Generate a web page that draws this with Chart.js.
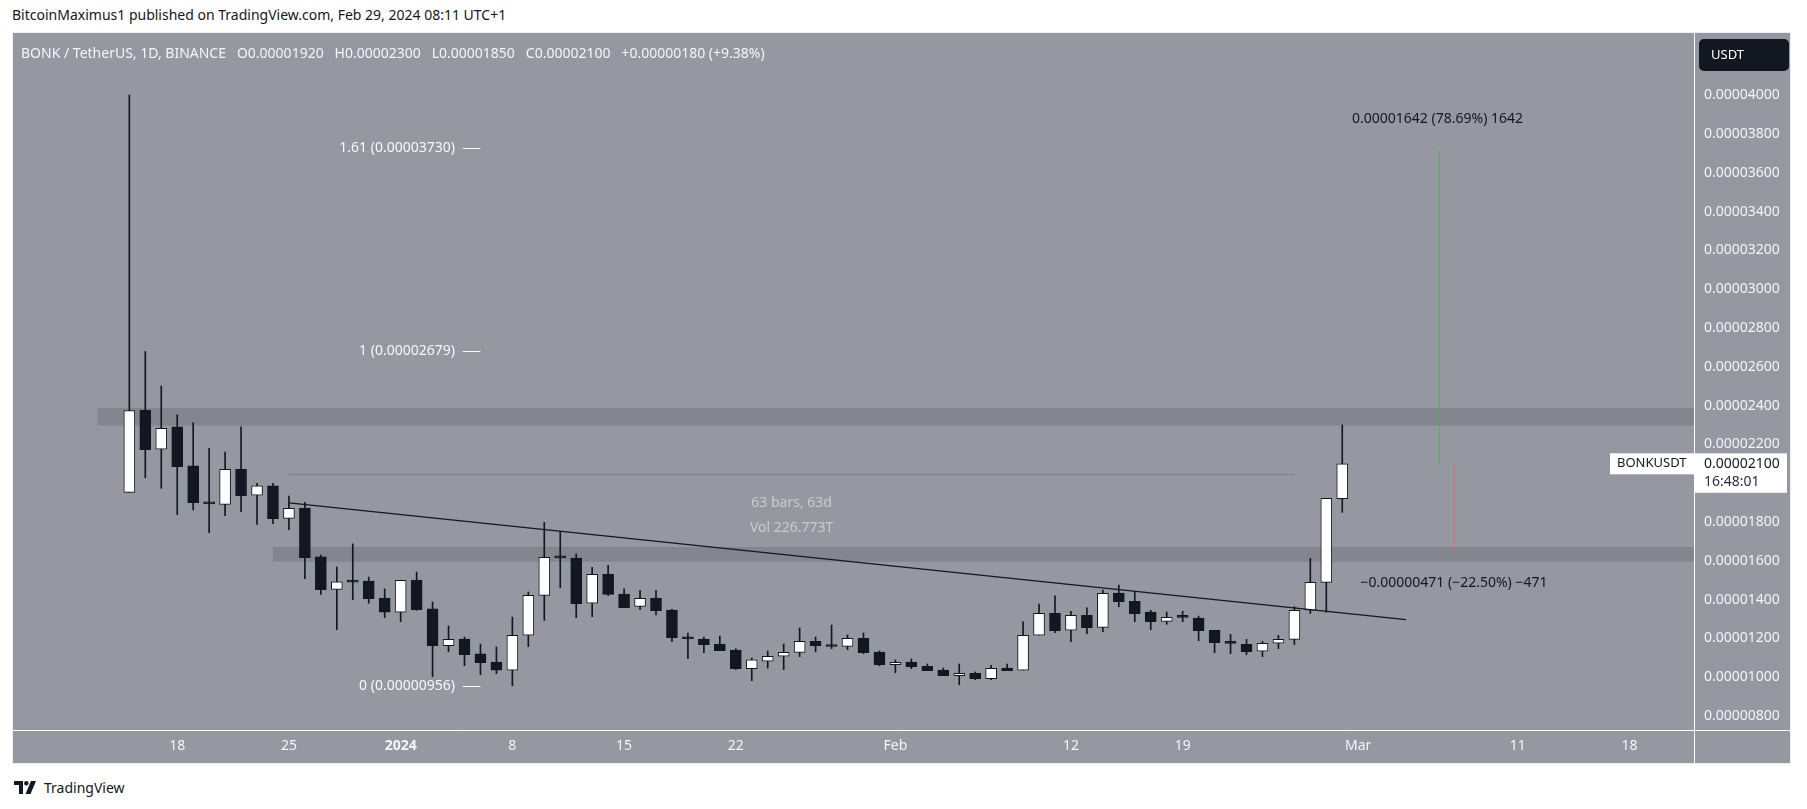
<!DOCTYPE html>
<html>
<head>
<meta charset="utf-8">
<script src="https://cdn.jsdelivr.net/npm/chart.js@4.4.1/dist/chart.umd.min.js"></script>
<style>
  html, body { margin:0; padding:0; background:#ffffff; width:1807px; height:809px; overflow:hidden; font-family:"Noto Sans", sans-serif; }
  #hdr { position:absolute; left:12px; top:5px; font-size:14px; line-height:20px; color:#131722; white-space:nowrap; }
  #frame { position:absolute; left:12px; top:32px; width:1777px; height:730px; border:1px solid #eef0f3; background:#9598a1; }
  #frame canvas { position:absolute; left:0; top:0; }
  #legend { position:absolute; left:21px; top:43px; font-size:14px; line-height:20px; color:#f5f6f8; white-space:pre; z-index:5; }
  #footer { position:absolute; left:14px; top:778px; height:18px; display:flex; align-items:center; font-size:14px; color:#131722; }
  #footer svg { margin-right:6px; }
</style>
</head>
<body>
<div id="hdr">BitcoinMaximus1 published on TradingView.com, Feb 29, 2024 08:11 UTC+1</div>
<div id="frame"><canvas id="c" width="1777" height="730"></canvas></div>
<div id="legend"></div>
<div id="footer"><svg width="24" height="13" viewBox="0 0 24 13"><path d="M0 0h9v13H5V4H0z" fill="#131722"/><circle cx="12.3" cy="2.2" r="2.2" fill="#131722"/><path d="M17 0h5l-5.5 13h-5z" fill="#131722"/></svg><span>TradingView</span></div>
<script>
// ---------- data ----------
const dates = ['2023-12-15','2023-12-16','2023-12-17','2023-12-18','2023-12-19','2023-12-20','2023-12-21','2023-12-22','2023-12-23','2023-12-24',
  '2023-12-25','2023-12-26','2023-12-27','2023-12-28','2023-12-29','2023-12-30','2023-12-31','2024-01-01','2024-01-02','2024-01-03',
  '2024-01-04','2024-01-05','2024-01-06','2024-01-07','2024-01-08','2024-01-09','2024-01-10','2024-01-11','2024-01-12','2024-01-13',
  '2024-01-14','2024-01-15','2024-01-16','2024-01-17','2024-01-18','2024-01-19','2024-01-20','2024-01-21','2024-01-22','2024-01-23',
  '2024-01-24','2024-01-25','2024-01-26','2024-01-27','2024-01-28','2024-01-29','2024-01-30','2024-01-31','2024-02-01','2024-02-02',
  '2024-02-03','2024-02-04','2024-02-05','2024-02-06','2024-02-07','2024-02-08','2024-02-09','2024-02-10','2024-02-11','2024-02-12',
  '2024-02-13','2024-02-14','2024-02-15','2024-02-16','2024-02-17','2024-02-18','2024-02-19','2024-02-20','2024-02-21','2024-02-22',
  '2024-02-23','2024-02-24','2024-02-25','2024-02-26','2024-02-27','2024-02-28','2024-02-29'];
const opens = [0.00001953,0.00002377,0.00002175,0.00002290,0.00002089,0.00001900,0.00001891,0.00002072,0.00001938,0.00001986,
  0.00001819,0.00001872,0.00001620,0.00001453,0.00001495,0.00001496,0.00001408,0.00001335,0.00001501,0.00001352,
  0.00001162,0.00001197,0.00001120,0.00001078,0.00001036,0.00001216,0.00001422,0.00001618,0.00001614,0.00001381,
  0.00001530,0.00001429,0.00001365,0.00001407,0.00001346,0.00001204,0.00001197,0.00001171,0.00001140,0.00001044,
  0.00001082,0.00001108,0.00001128,0.00001185,0.00001162,0.00001159,0.00001200,0.00001130,0.00001064,0.00001078,
  0.00001056,0.00001037,0.00001008,0.00001020,0.00000992,0.00001047,0.00001036,0.00001216,0.00001329,0.00001242,
  0.00001319,0.00001257,0.00001434,0.00001391,0.00001335,0.00001288,0.00001309,0.00001305,0.00001242,0.00001179,
  0.00001169,0.00001134,0.00001175,0.00001195,0.00001345,0.00001489,0.00001920];
const highs = [0.00004000,0.00002679,0.00002501,0.00002352,0.00002312,0.00002180,0.00002161,0.00002290,0.00001999,0.00001999,
  0.00001934,0.00001902,0.00001630,0.00001568,0.00001687,0.00001516,0.00001455,0.00001500,0.00001542,0.00001388,
  0.00001264,0.00001207,0.00001171,0.00001156,0.00001310,0.00001439,0.00001798,0.00001750,0.00001635,0.00001566,
  0.00001576,0.00001455,0.00001448,0.00001448,0.00001350,0.00001228,0.00001207,0.00001212,0.00001147,0.00001099,
  0.00001135,0.00001171,0.00001254,0.00001207,0.00001269,0.00001218,0.00001228,0.00001135,0.00001089,0.00001094,
  0.00001068,0.00001047,0.00001068,0.00001027,0.00001061,0.00001068,0.00001286,0.00001377,0.00001419,0.00001340,
  0.00001357,0.00001449,0.00001475,0.00001442,0.00001345,0.00001336,0.00001340,0.00001315,0.00001242,0.00001221,
  0.00001195,0.00001185,0.00001216,0.00001363,0.00001613,0.00001922,0.00002300];
const lows = [0.00001953,0.00002028,0.00001974,0.00001838,0.00001862,0.00001745,0.00001833,0.00001853,0.00001788,0.00001791,
  0.00001760,0.00001508,0.00001427,0.00001245,0.00001400,0.00001381,0.00001307,0.00001286,0.00001345,0.00001003,
  0.00001131,0.00001059,0.00001013,0.00001018,0.00000956,0.00001157,0.00001293,0.00001461,0.00001307,0.00001312,
  0.00001420,0.00001358,0.00001348,0.00001321,0.00001183,0.00001095,0.00001126,0.00001137,0.00001039,0.00000982,
  0.00001047,0.00001039,0.00001106,0.00001131,0.00001147,0.00001142,0.00001121,0.00001059,0.00001023,0.00001044,
  0.00001034,0.00001008,0.00000961,0.00000987,0.00000987,0.00001034,0.00001036,0.00001216,0.00001229,0.00001183,
  0.00001224,0.00001235,0.00001363,0.00001286,0.00001245,0.00001273,0.00001286,0.00001188,0.00001126,0.00001121,
  0.00001116,0.00001106,0.00001147,0.00001168,0.00001329,0.00001335,0.00001850];
const closes = [0.00002374,0.00002173,0.00002283,0.00002085,0.00001900,0.00001893,0.00002072,0.00001936,0.00001987,0.00001817,
  0.00001871,0.00001616,0.00001451,0.00001491,0.00001490,0.00001405,0.00001335,0.00001499,0.00001348,0.00001162,
  0.00001195,0.00001116,0.00001075,0.00001036,0.00001216,0.00001422,0.00001618,0.00001615,0.00001379,0.00001530,
  0.00001427,0.00001358,0.00001407,0.00001343,0.00001204,0.00001198,0.00001168,0.00001137,0.00001044,0.00001089,
  0.00001108,0.00001128,0.00001185,0.00001162,0.00001158,0.00001200,0.00001126,0.00001064,0.00001077,0.00001054,
  0.00001034,0.00001008,0.00001020,0.00000992,0.00001046,0.00001034,0.00001216,0.00001329,0.00001240,0.00001319,
  0.00001255,0.00001432,0.00001389,0.00001327,0.00001286,0.00001309,0.00001308,0.00001240,0.00001178,0.00001174,
  0.00001131,0.00001175,0.00001195,0.00001345,0.00001489,0.00001922,0.00002100];

// axis ticks
const yTicks = [0.00004000,0.00003800,0.00003600,0.00003400,0.00003200,0.00003000,0.00002800,0.00002600,0.00002400,0.00002200,
  0.00001800,0.00001600,0.00001400,0.00001200,0.00001000,0.00000800];
const xTickDates = ['2023-12-18','2023-12-25','2024-01-01','2024-01-08','2024-01-15','2024-01-22','2024-02-01','2024-02-12','2024-02-19','2024-03-01','2024-03-11','2024-03-18'];
const xTickLabels = ['18','25','2024','8','15','22','Feb','12','19','Mar','11','18'];

// drawings
const zoneFrom = ['2023-12-13','2023-12-24'];
const zoneLow  = [0.00002297,0.00001595];
const zoneHigh = [0.00002388,0.00001671];
const trendDates  = ['2023-12-25','2024-03-04'];
const trendPrices = [0.00001899,0.00001297];
const rulerDates = ['2023-12-25','2024-02-26'];
const rulerPrice = 0.00002046;
const rulerTexts = ['63 bars, 63d','Vol 226.773T'];
const rulerTextPrices = [0.00001899,0.00001771];
const fibRatios = ['1.61','1','0'];
const fibLevels = [0.00003730,0.00002679,0.00000956];
const currentPrice = 0.00002100;
const targetPrice = 0.00003720;
const stopPrice = 0.00001626;
const targetText = '0.00001642 (78.69%) 1642';
const stopText = '\u22120.00000471 (\u221222.50%) \u2212471';
const targetTextPrice = 0.00003879;
const stopTextPrice = 0.00001487;
const countdown = '16:48:01';
const symbol = 'BONKUSDT';
const legendHead = 'BONK / TetherUS, 1D, BINANCE';
const legendChange = '+0.00000180 (+9.38%)';

// ---------- helpers ----------
const DAY0 = Date.UTC(2023, 11, 18);
const dayOf = s => (Date.parse(s + 'T00:00:00Z') - DAY0) / 86400000;
const N = dates.length;
document.getElementById('legend').textContent =
  legendHead + '   O' + opens[N-1].toFixed(8) + '   H' + highs[N-1].toFixed(8) + '   L' + lows[N-1].toFixed(8) +
  '   C' + closes[N-1].toFixed(8) + '   ' + legendChange;

const DARK = '#131722';
const FONT = '"Noto Sans", sans-serif';

const overlay = {
  id: 'overlay',
  beforeDatasetsDraw(chart) {
    const {ctx, chartArea: a, scales: {x, y}} = chart;
    ctx.save();
    ctx.beginPath(); ctx.rect(a.left, a.top, a.width, a.height); ctx.clip();
    ctx.fillStyle = '#83868f';
    zoneFrom.forEach((d, i) => {
      const x0 = x.getPixelForValue(dayOf(d));
      const yt = y.getPixelForValue(zoneHigh[i]);
      const yb = y.getPixelForValue(zoneLow[i]);
      ctx.fillRect(x0, yt, a.right - x0, yb - yt);
    });
    // measure ruler line
    ctx.strokeStyle = '#7c7f88'; ctx.lineWidth = 1;
    const ry = Math.round(y.getPixelForValue(rulerPrice)) + 0.5;
    ctx.beginPath();
    ctx.moveTo(x.getPixelForValue(dayOf(rulerDates[0])), ry);
    ctx.lineTo(x.getPixelForValue(dayOf(rulerDates[1])), ry);
    ctx.stroke();
    // ruler texts
    ctx.fillStyle = '#c9cbd0'; ctx.font = '14px ' + FONT; ctx.textAlign = 'center'; ctx.textBaseline = 'middle';
    const mid = (dayOf(rulerDates[0]) + dayOf(rulerDates[1])) / 2;
    rulerTexts.forEach((t, i) => ctx.fillText(t, x.getPixelForValue(mid), y.getPixelForValue(rulerTextPrices[i])));
    ctx.restore();
  },
  afterDatasetsDraw(chart) {
    const {ctx, chartArea: a, scales: {x, y}} = chart;
    ctx.save();
    ctx.beginPath(); ctx.rect(a.left, a.top, a.width, a.height); ctx.clip();
    // trend line
    ctx.strokeStyle = DARK; ctx.lineWidth = 1.3;
    ctx.beginPath();
    ctx.moveTo(x.getPixelForValue(dayOf(trendDates[0])), y.getPixelForValue(trendPrices[0]));
    ctx.lineTo(x.getPixelForValue(dayOf(trendDates[1])), y.getPixelForValue(trendPrices[1]));
    ctx.stroke();
    // fib labels
    ctx.font = '14px ' + FONT; ctx.textBaseline = 'middle'; ctx.textAlign = 'right';
    ctx.fillStyle = '#f7f8fa'; ctx.strokeStyle = '#f7f8fa'; ctx.lineWidth = 1;
    fibLevels.forEach((v, i) => {
      const py = y.getPixelForValue(v);
      ctx.fillText(fibRatios[i] + ' (' + v.toFixed(8) + ')', x.getPixelForValue(17.4), py);
      const yy = Math.round(py) + 0.5;
      ctx.beginPath(); ctx.moveTo(x.getPixelForValue(17.9), yy); ctx.lineTo(x.getPixelForValue(19.0), yy); ctx.stroke();
    });
    // long position measure
    const gx = Math.round(x.getPixelForValue(79.04)) + 0.5;
    const rx = Math.round(x.getPixelForValue(80.02)) + 0.5;
    ctx.strokeStyle = 'rgba(80,170,90,0.75)';
    ctx.beginPath(); ctx.moveTo(gx, y.getPixelForValue(currentPrice)); ctx.lineTo(gx, y.getPixelForValue(targetPrice)); ctx.stroke();
    ctx.strokeStyle = 'rgba(225,95,105,0.75)';
    ctx.beginPath(); ctx.moveTo(rx, y.getPixelForValue(currentPrice)); ctx.lineTo(rx, y.getPixelForValue(stopPrice)); ctx.stroke();
    ctx.fillStyle = DARK; ctx.textAlign = 'center';
    ctx.fillText(targetText, x.getPixelForValue(78.97), y.getPixelForValue(targetTextPrice));
    ctx.fillText(stopText, x.getPixelForValue(80.0), y.getPixelForValue(stopTextPrice));
    // symbol label on pane
    const cy = y.getPixelForValue(currentPrice);
    ctx.fillStyle = '#ffffff';
    ctx.fillRect(a.right - 84, cy - 10.5, 84, 21);
    ctx.fillStyle = DARK; ctx.textAlign = 'left'; ctx.font = '13px ' + FONT;
    ctx.fillText(symbol, a.right - 77, cy);
    ctx.restore();
  },
  afterDraw(chart) {
    const {ctx, chartArea: a, scales: {y}, width, height} = chart;
    ctx.save();
    ctx.strokeStyle = '#ffffff'; ctx.lineWidth = 1;
    ctx.beginPath(); ctx.moveTo(a.right + 0.5, 0); ctx.lineTo(a.right + 0.5, height); ctx.stroke();
    ctx.beginPath(); ctx.moveTo(0, a.bottom + 0.5); ctx.lineTo(width, a.bottom + 0.5); ctx.stroke();
    // price label on axis
    const cy = y.getPixelForValue(currentPrice);
    ctx.fillStyle = '#ffffff';
    ctx.fillRect(a.right + 1, cy - 10.5, 92, 39.5);
    ctx.fillStyle = DARK; ctx.font = '14px ' + FONT; ctx.textAlign = 'left'; ctx.textBaseline = 'middle';
    ctx.fillText(currentPrice.toFixed(8), a.right + 10, cy);
    ctx.fillStyle = '#2a2e39';
    ctx.fillText(countdown, a.right + 10, cy + 18);
    // USDT button
    ctx.fillStyle = DARK;
    ctx.beginPath(); ctx.roundRect(a.right + 5, 6, 90, 32, 5); ctx.fill();
    ctx.fillStyle = '#ffffff'; ctx.font = '13px ' + FONT;
    ctx.fillText('USDT', a.right + 17, 22);
    ctx.restore();
  }
};

const upDown = ctx => closes[ctx.dataIndex] >= opens[ctx.dataIndex] ? '#ffffff' : DARK;

new Chart(document.getElementById('c'), {
  type: 'bar',
  data: {
    datasets: [
      {
        label: 'wick',
        data: dates.map((d, i) => ({x: dayOf(d), y: [lows[i], highs[i]]})),
        backgroundColor: DARK,
        barThickness: 1,
        grouped: false,
        order: 2
      },
      {
        label: 'body',
        data: dates.map((d, i) => ({x: dayOf(d), y: [opens[i], closes[i]]})),
        backgroundColor: upDown,
        borderColor: DARK,
        borderWidth: 1,
        borderSkipped: false,
        barThickness: 11,
        minBarLength: 2,
        grouped: false,
        order: 1
      }
    ]
  },
  options: {
    responsive: false,
    devicePixelRatio: 1,
    animation: false,
    events: [],
    layout: { padding: 0, autoPadding: false },
    plugins: { legend: { display: false }, tooltip: { enabled: false } },
    scales: {
      x: {
        type: 'linear',
        min: -10.29,
        max: 95.04,
        offset: false,
        grid: { display: false, drawTicks: false },
        border: { display: false },
        afterBuildTicks: s => { s.ticks = xTickDates.map(d => ({value: dayOf(d)})); },
        afterFit: s => { s.height = 33; s.paddingLeft = 0; s.paddingRight = 0; },
        ticks: {
          autoSkip: false,
          maxRotation: 0,
          padding: 8,
          color: '#f4f5f7',
          font: ctx => ({family: FONT, size: 14, weight: (ctx.tick && ctx.tick.label === '2024') ? 'bold' : 'normal'}),
          callback: (v, i) => xTickLabels[i]
        }
      },
      y: {
        type: 'linear',
        position: 'right',
        min: 0.000007278,
        max: 0.000043206,
        grid: { display: false, drawTicks: false },
        border: { display: false },
        afterBuildTicks: s => { s.ticks = yTicks.map(v => ({value: v})); },
        afterFit: s => { s.width = 96; s.paddingTop = 0; s.paddingBottom = 0; },
        ticks: {
          padding: 10,
          color: '#f4f5f7',
          font: { family: FONT, size: 14 },
          callback: v => v.toFixed(8)
        }
      }
    }
  },
  plugins: [overlay]
});
</script>
</body>
</html>
